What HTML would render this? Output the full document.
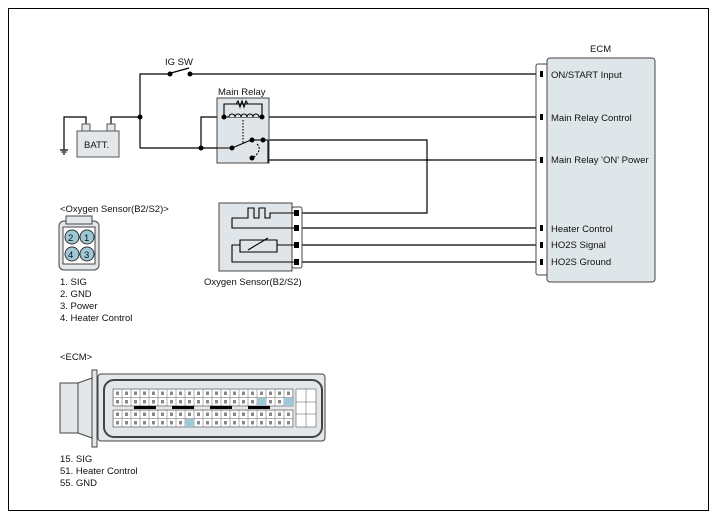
<!DOCTYPE html>
<html><head><style>
html,body{margin:0;padding:0;background:#fff;}
svg{display:block;font-family:"Liberation Sans",Arial,sans-serif;}
text{font-size:9.5px;fill:#111;}
</style></head><body>
<svg width="717" height="518" viewBox="0 0 717 518" xmlns="http://www.w3.org/2000/svg">
<defs>
<pattern id="cells" x="113" y="389" width="9" height="8.5" patternUnits="userSpaceOnUse">
<rect x="0" y="0" width="9" height="8.5" fill="#fff" stroke="#666" stroke-width="0.5"/>
<rect x="3" y="2.5" width="3" height="3.5" fill="#888"/>
</pattern>
<pattern id="cells2" x="113" y="410" width="9" height="8.5" patternUnits="userSpaceOnUse">
<rect x="0" y="0" width="9" height="8.5" fill="#fff" stroke="#666" stroke-width="0.5"/>
<rect x="3" y="2.5" width="3" height="3.5" fill="#888"/>
</pattern>
</defs>
<rect x="8.5" y="8.5" width="700" height="502" fill="none" stroke="#000" stroke-width="1"/>
<g stroke="#000" stroke-width="1.2" fill="none">
<polyline points="140,148 140,74 170,74"/>
<line x1="171" y1="73" x2="189" y2="68"/>
<line x1="190" y1="74" x2="540" y2="74"/>
<polyline points="111,127 111,117 140,117"/>
<polyline points="86,127 86,117 64,117 64,150"/>
<line x1="60" y1="150" x2="68" y2="150"/><line x1="61.5" y1="152" x2="66.5" y2="152"/><line x1="63" y1="154" x2="65" y2="154"/>
<polyline points="140,148 232,148"/>
<polyline points="201,148 201,117 224,117"/>
<line x1="262" y1="117" x2="540" y2="117"/>
<polyline points="263,140 427,140 427,213 302,213"/>
<polyline points="263,140 268,140 268,160 540,160"/>
<line x1="302" y1="228" x2="540" y2="228"/>
<line x1="302" y1="245" x2="540" y2="245"/>
<line x1="302" y1="262" x2="540" y2="262"/>
</g>
<rect x="77" y="131" width="42" height="26" fill="#e3e7e9" stroke="#555"/>
<rect x="82" y="124" width="8" height="7" fill="#e3e7e9" stroke="#555"/>
<rect x="107" y="124" width="8" height="7" fill="#e3e7e9" stroke="#555"/>
<text x="84" y="148">BATT.</text>
<text x="165" y="65">IG SW</text>
<rect x="217" y="98" width="52" height="65" fill="#dfe5e8" stroke="#444"/>
<g stroke="#000" stroke-width="1.1" fill="none">
<polyline points="224,117 224,104 262,104 262,117"/>
<polyline points="236,104 238,101 240,107 242,101 244,107 246,101 248,104"/>
<line x1="224" y1="117" x2="262" y2="117"/>
<path d="M229,117 a3,3 0 0 1 6,0 a3,3 0 0 1 6,0 a3,3 0 0 1 6,0 a3,3 0 0 1 6,0 a3,3 0 0 1 6,0" fill="#dfe5e8"/>
<line x1="201" y1="148" x2="232" y2="148"/>
<line x1="232" y1="148" x2="251" y2="140"/>
<line x1="252" y1="140" x2="268" y2="140"/>
<line x1="268" y1="140" x2="268" y2="163"/>
<line x1="243" y1="120" x2="243" y2="143" stroke-dasharray="1.5,1.5"/>
<path d="M257,144 q6,6 -4,14" stroke-dasharray="2,1.5"/>
</g>
<g fill="#000">
<circle cx="140" cy="117" r="2.5"/><circle cx="201" cy="148" r="2.5"/>
<circle cx="170" cy="74" r="2.5"/><circle cx="190" cy="74" r="2.5"/>
<circle cx="224" cy="117" r="2.5"/><circle cx="262" cy="117" r="2.5"/>
<circle cx="232" cy="148" r="2.5"/><circle cx="252" cy="140" r="2.5"/>
<circle cx="263" cy="140" r="2.5"/><circle cx="252" cy="158" r="2.5"/>
</g>
<text x="218" y="95">Main Relay</text>
<rect x="292" y="207" width="10" height="61" rx="2" fill="#fff" stroke="#444"/>
<rect x="219" y="203" width="73" height="68" fill="#dfe5e8" stroke="#444"/>
<g stroke="#000" stroke-width="1.1" fill="none">
<polyline points="296,213 270,213 270,218 265,218 265,208 259,208 259,218 254,218 254,208 248,208 248,218 232,218 232,228 296,228"/>
<polyline points="296,245 277,245 277,240 240,240 240,252 277,252 277,245"/>
<polyline points="240,245 232,245 232,262 296,262"/>
<line x1="248" y1="250" x2="268" y2="238"/>
</g>
<g fill="#000"><rect x="294" y="210" width="5" height="6"/><rect x="294" y="225" width="5" height="6"/><rect x="294" y="242" width="5" height="6"/><rect x="294" y="259" width="5" height="6"/></g>
<text x="204" y="285">Oxygen Sensor(B2/S2)</text>
<rect x="536" y="64" width="12" height="211" rx="2" fill="#fff" stroke="#444"/>
<rect x="547" y="58" width="108" height="224" rx="3" fill="#dfe6ea" stroke="#444"/>
<g fill="#000"><rect x="540" y="71" width="3" height="6"/><rect x="540" y="114" width="3" height="6"/><rect x="540" y="157" width="3" height="6"/><rect x="540" y="225" width="3" height="6"/><rect x="540" y="242" width="3" height="6"/><rect x="540" y="259" width="3" height="6"/></g>
<text x="590" y="52">ECM</text>
<text x="551" y="78">ON/START Input</text>
<text x="551" y="121">Main Relay Control</text>
<text x="551" y="163">Main Relay 'ON' Power</text>
<text x="551" y="232">Heater Control</text>
<text x="551" y="248">HO2S  Signal</text>
<text x="551" y="265">HO2S  Ground</text>
<text x="60" y="212">&lt;Oxygen Sensor(B2/S2)&gt;</text>
<rect x="59" y="221" width="40" height="49" rx="5" fill="#e3e7e9" stroke="#444"/>
<rect x="66" y="216" width="26" height="8" fill="#e3e7e9" stroke="#444"/>
<rect x="63" y="227" width="32" height="37" fill="#fff" stroke="#444"/>
<g fill="#9fc8d6" stroke="#333"><circle cx="72" cy="237" r="7"/><circle cx="87" cy="237" r="7"/><circle cx="72" cy="254" r="7"/><circle cx="87" cy="254" r="7"/></g>
<text x="68" y="241">2</text><text x="84" y="241">1</text><text x="68" y="258">4</text><text x="84" y="258">3</text>
<text x="60" y="285">1. SIG</text>
<text x="60" y="297">2. GND</text>
<text x="60" y="309">3. Power</text>
<text x="60" y="321">4. Heater Control</text>
<text x="60" y="360">&lt;ECM&gt;</text>
<rect x="60" y="383" width="18" height="50" fill="#e3e7e9" stroke="#444"/>
<polygon points="78,383 92,378 92,438 78,433" fill="#e3e7e9" stroke="#444"/>
<rect x="92" y="370" width="5" height="77" fill="#e3e7e9" stroke="#444"/>
<rect x="98" y="374" width="227" height="67" rx="3" fill="#e3e7e9" stroke="#444"/>
<rect x="104" y="380" width="218" height="57" rx="10" fill="none" stroke="#444" stroke-width="2"/>
<rect x="113" y="389" width="180" height="17" fill="url(#cells)" stroke="#555" stroke-width="0.6"/>
<rect x="113" y="410" width="180" height="17" fill="url(#cells2)" stroke="#555" stroke-width="0.6"/>
<g fill="#000"><rect x="134" y="406" width="22" height="3"/><rect x="172" y="406" width="22" height="3"/><rect x="210" y="406" width="22" height="3"/><rect x="248" y="406" width="22" height="3"/></g>
<rect x="296" y="389" width="20" height="38" fill="#fff" stroke="#555" stroke-width="0.6"/>
<g stroke="#555" stroke-width="0.5">
<line x1="296" y1="402" x2="316" y2="402"/><line x1="296" y1="414" x2="316" y2="414"/><line x1="306" y1="389" x2="306" y2="427"/>
</g>
<rect x="284" y="398" width="9" height="8" fill="#9fc8d6"/>
<rect x="257" y="398" width="9" height="8" fill="#9fc8d6"/>
<rect x="185" y="419" width="9" height="8" fill="#9fc8d6"/>
<text x="60" y="462">15. SIG</text>
<text x="60" y="474">51. Heater Control</text>
<text x="60" y="486">55. GND</text>
</svg>
</body></html>
